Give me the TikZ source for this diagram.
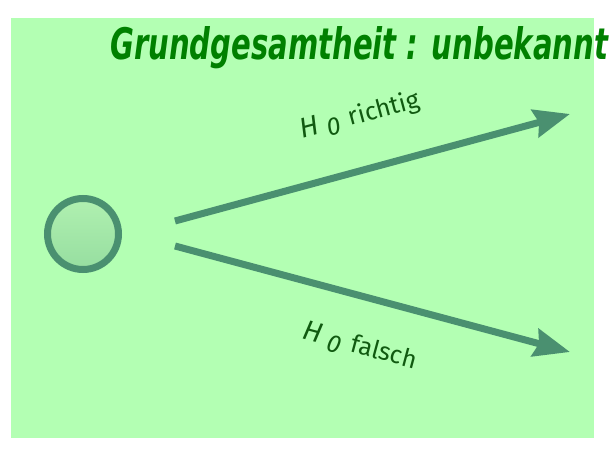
\documentclass[tikz,border=0pt]{standalone}
\usepackage{fontspec}
\setmainfont{Fira Sans}
\newfontfamily\titlefont{DejaVu Sans}
\usetikzlibrary{arrows.meta}
\definecolor{bg}{RGB}{179,255,179}
\definecolor{arrowc}{RGB}{74,144,112}
\definecolor{titlec}{RGB}{0,128,0}
\definecolor{labelc}{RGB}{16,90,16}
\definecolor{ctop}{RGB}{176,240,176}
\definecolor{cbot}{RGB}{150,222,160}
\newcommand{\hnull}{{\fontsize{28}{30}\selectfont\textit{H}}\hspace{7pt}\raisebox{-5pt}{\textit{0}}\hspace{10pt}}
\begin{document}
\begin{tikzpicture}[x=1pt,y=1pt,
  branch/.style={draw=arrowc,line width=7pt,-{Stealth[length=36pt,width=28pt,inset=4pt]}},
  lbl/.style={text=labelc,font=\fontsize{25}{30}\selectfont,inner sep=0pt},
  startnode/.style={circle,draw=arrowc,line width=7pt,minimum size=71pt,inner sep=0pt,top color=ctop,bottom color=cbot}]
\useasboundingbox (0,0) rectangle (612,465);
\fill[bg] (11,27) rectangle (594,447);
\node[text=titlec,anchor=base west,inner sep=0pt] (title) at (110,405)
  {\resizebox{498pt}{33pt}{\titlefont\bfseries\itshape Grundgesamtheit : unbekannt}};
\node[startnode] (c) at (83,231) {};
\coordinate (s1) at (175,244);
\coordinate (e1) at (570,351);
\coordinate (s2) at (175,219);
\coordinate (e2) at (570,113);
\draw[branch] (s1) -- (e1);
\draw[branch] (s2) -- (e2);
\node[lbl,rotate=15] (l1) at (360,349) {\hnull richtig};
\node[lbl,rotate=-15] (l2) at (360,118) {\hnull falsch};
\end{tikzpicture}
\end{document}
